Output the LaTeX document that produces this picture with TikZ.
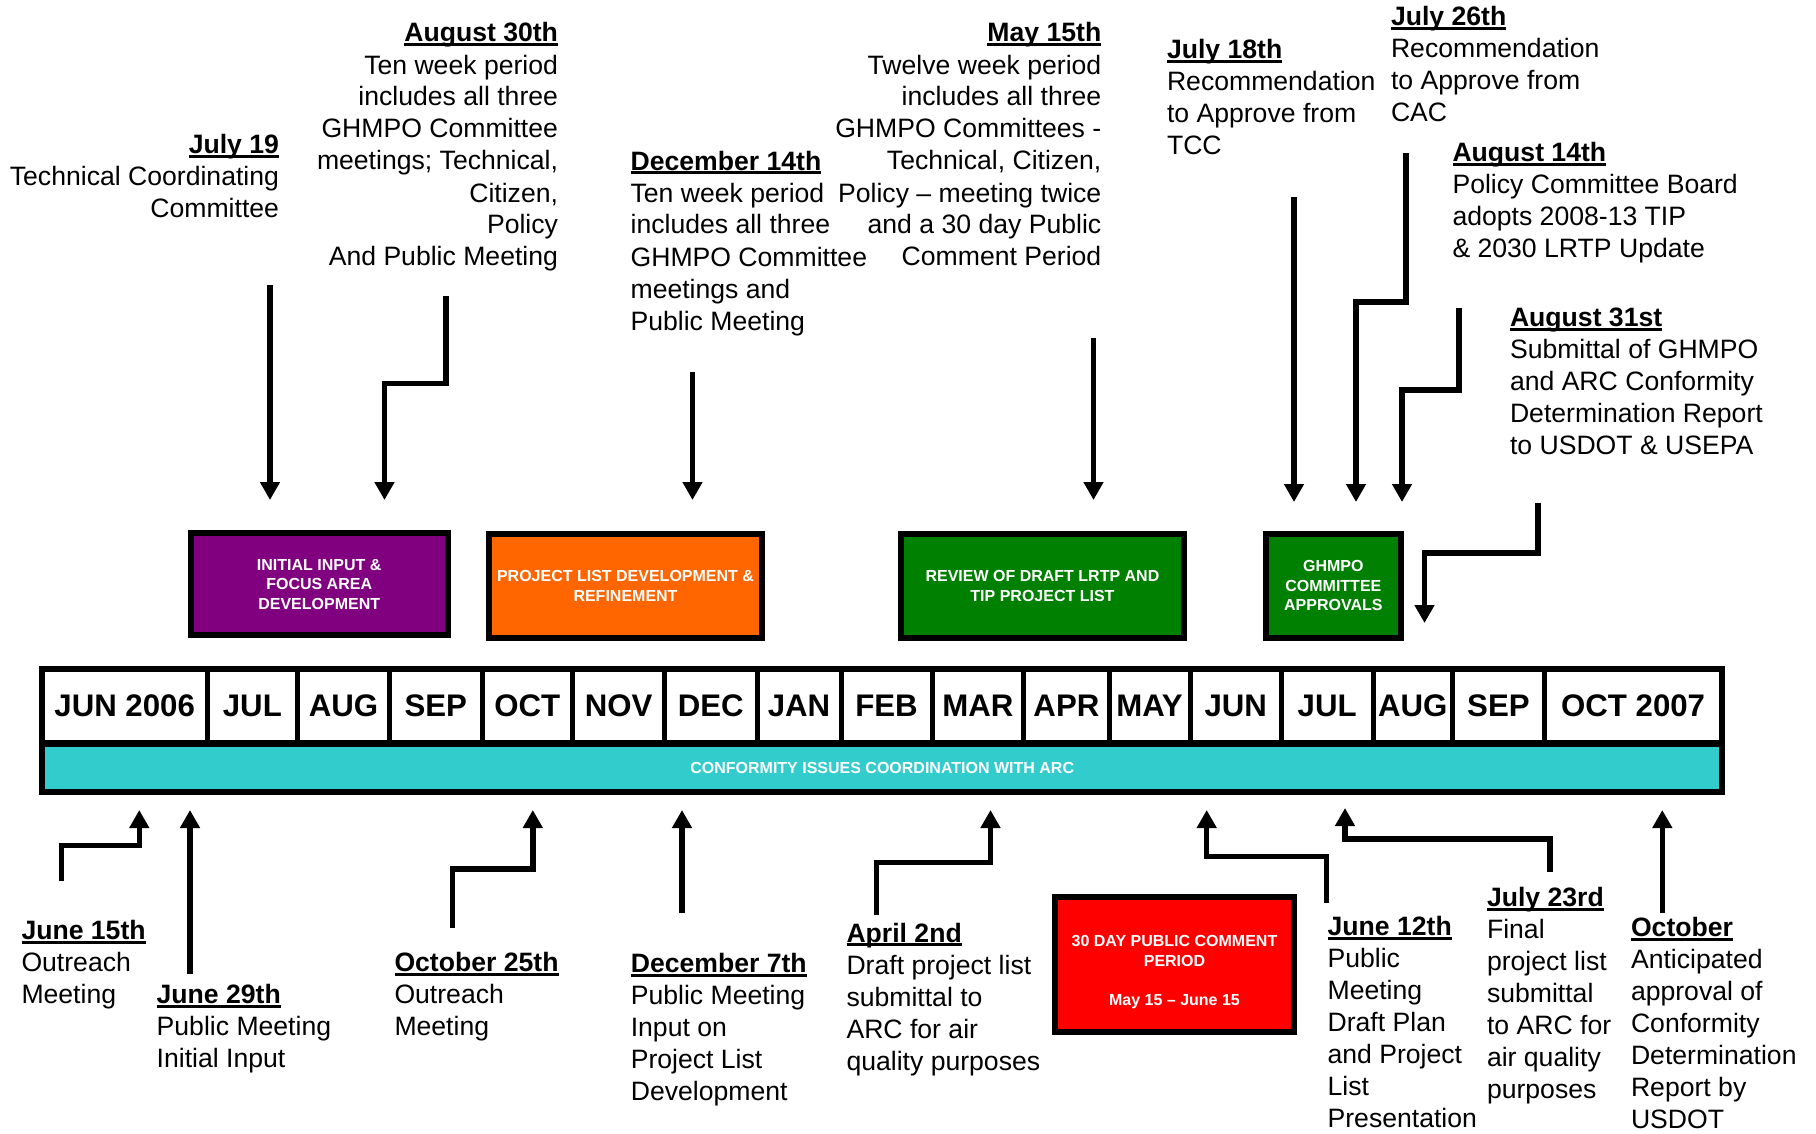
\documentclass[tikz,border=0pt]{standalone}
\usepackage{fontspec}
\setmainfont{Liberation Sans}
\usetikzlibrary{arrows.meta}
\definecolor{tpurple}{HTML}{800080}
\definecolor{torange}{HTML}{FF6600}
\definecolor{tgreen}{HTML}{008000}
\definecolor{tred}{HTML}{FF0000}
\definecolor{tteal}{HTML}{33CCCC}
\newsavebox\hdrbx
\newcommand\hdr[1]{\strut\sbox\hdrbx{\bfseries #1}\usebox\hdrbx\llap{\rule[-2.2pt]{\wd\hdrbx}{1.5pt}}}
\begin{document}
\begin{tikzpicture}[x=0.5pt,y=-0.5pt,
  arr/.style={line width=2.7pt,-{Triangle[length=9pt,width=9.5pt]}},
  rtxt/.style={anchor=north east,align=right,inner sep=0pt,outer sep=0pt,font=\fontsize{13.3}{16}\selectfont},
  ltxt/.style={anchor=north west,align=left,inner sep=0pt,outer sep=0pt,font=\fontsize{13.3}{16}\selectfont},
  phase/.style={draw=black,line width=3pt,inner sep=0pt,outer sep=0pt,text=white,align=center,font=\fontsize{8}{9.7}\selectfont\bfseries},
  ptext/.style={inner sep=0pt,outer sep=0pt,text=white,align=center,font=\fontsize{8}{9.7}\selectfont\bfseries},
  month/.style={draw=black,line width=2.5pt,fill=white,inner sep=0pt,outer sep=0pt,minimum height=37.3pt,font=\fontsize{15.6}{18}\selectfont\bfseries},
]
\useasboundingbox (0,0) rectangle (1816,1134);

% ---- timeline bar ----
\node[draw=black,line width=3pt,fill=tteal,inner sep=0pt,outer sep=0pt,minimum width=839.8pt,minimum height=24.35pt,text=white,font=\fontsize{8}{9.7}\selectfont\bfseries] (arc) at (882.2,767.65) {CONFORMITY ISSUES COORDINATION WITH ARC};
\foreach \cx/\w/\lab [count=\i] in {124.7/82.3/JUN 2006, 252.35/45.35/JUL, 343.6/45.9/AUG, 435.75/46.25/SEP, 527.35/45.35/OCT, 618.6/45.9/NOV, 710.75/46.25/DEC, 799/42/JAN, 886.5/45.5/FEB, 977.9/45.9/MAR, 1066.4/42.6/APR, 1149.5/40.5/MAY, 1235.7/45.7/JUN, 1327.2/45.8/JUL, 1412.8/39.8/AUG, 1498.45/45.85/SEP, 1633.15/88.85/OCT 2007}
  \node[month,minimum width=\w pt] (m\i) at (\cx,706) {\lab};
\draw[line width=3pt] (42.4,668.7) rectangle (1722,792);
\draw[line width=3.2pt] (42.4,743.3) -- (1722,743.3);

% ---- phase boxes ----
\node[phase,fill=tpurple,minimum width=128.4pt,minimum height=51.15pt] (p1) at (319.2,584.15) {INITIAL INPUT \&\\FOCUS AREA\\DEVELOPMENT};
\node[phase,fill=torange,minimum width=136.5pt,minimum height=52.15pt] (p2) at (625.5,585.85) {PROJECT LIST DEVELOPMENT \&\\REFINEMENT};
\node[phase,fill=tgreen,minimum width=141.95pt,minimum height=52.15pt] (p3) at (1042.45,585.85) {REVIEW OF DRAFT LRTP AND\\TIP PROJECT LIST};
\node[phase,fill=tgreen,minimum width=67.65pt,minimum height=52.15pt] (p4) at (1333.35,585.85) {GHMPO\\COMMITTEE\\APPROVALS};
\node[phase,fill=tred,minimum width=119.5pt,minimum height=67.35pt] (p5) at (1174.5,964.65) {};
\node[ptext] (p5t) at (1174.5,972) {30 DAY PUBLIC COMMENT\\PERIOD\\[9.7pt]May 15 – June 15};

% ---- top texts ----
\node[rtxt] (t1) at (279,131) {\hdr{July 19}\\Technical Coordinating\\Committee};
\node[rtxt] (t2) at (558,19.6) {\hdr{August 30th}\\Ten week period\\includes all three\\GHMPO Committee\\meetings; Technical,\\Citizen,\\Policy\\And Public Meeting};
\node[ltxt] (t3) at (630.6,147.6) {\hdr{December 14th}\\Ten week period\\includes all three\\GHMPO Committee\\meetings and\\Public Meeting};
\node[rtxt] (t4) at (1101.3,19.6) {\hdr{May 15th}\\Twelve week period\\includes all three\\GHMPO Committees -\\Technical, Citizen,\\Policy – meeting twice\\and a 30 day Public\\Comment Period};
\node[ltxt] (t5) at (1167,36.1) {\hdr{July 18th}\\Recommendation\\to Approve from\\TCC};
\node[ltxt] (t6) at (1391,3.6) {\hdr{July 26th}\\Recommendation\\to Approve from\\CAC};
\node[ltxt] (t7) at (1452.5,139.3) {\hdr{August 14th}\\Policy Committee Board\\adopts 2008-13 TIP\\\& 2030 LRTP Update};
\node[ltxt] (t8) at (1510,304.3) {\hdr{August 31st}\\Submittal of GHMPO\\and ARC Conformity\\Determination Report\\to USDOT \& USEPA};

% ---- bottom texts ----
\node[ltxt] (b1) at (21.5,916.9) {\hdr{June 15th}\\Outreach\\Meeting};
\node[ltxt] (b2) at (156.7,980.9) {\hdr{June 29th}\\Public Meeting\\Initial Input};
\node[ltxt] (b3) at (394.5,949.3) {\hdr{October 25th}\\Outreach\\Meeting};
\node[ltxt] (b4) at (630.8,950.3) {\hdr{December 7th}\\Public Meeting\\Input on\\Project List\\Development};
\node[ltxt] (b5) at (846.5,919.6) {\hdr{April 2nd}\\Draft project list\\submittal to\\ARC for air\\quality purposes};
\node[ltxt] (b6) at (1327.6,913) {\hdr{June 12th}\\Public\\Meeting\\Draft Plan\\and Project\\List\\Presentation};
\node[ltxt] (b7) at (1487,884.3) {\hdr{July 23rd}\\Final\\project list\\submittal\\to ARC for\\air quality\\purposes};
\node[ltxt] (b8) at (1631,914.5) {\hdr{October}\\Anticipated\\approval of\\Conformity\\Determination\\Report by\\USDOT};

% ---- arrow end points ----
\coordinate (a1s) at (270,285);    \coordinate (a1e) at (270,500);
\coordinate (a2s) at (445.8,296.5);\coordinate (a2e) at (384.5,500);
\coordinate (a3s) at (692.5,371.7);\coordinate (a3e) at (692.5,500);
\coordinate (a4s) at (1093.5,338); \coordinate (a4e) at (1093.5,500);
\coordinate (a5s) at (1294,197);   \coordinate (a5e) at (1294,502);
\coordinate (a6s) at (1406,153);   \coordinate (a6e) at (1356,502);
\coordinate (a7s) at (1459,308);   \coordinate (a7e) at (1402,502);
\coordinate (a8s) at (1538,503);   \coordinate (a8e) at (1424.5,623);
\coordinate (c1s) at (61.5,881);   \coordinate (c1e) at (139.3,810);
\coordinate (c2s) at (190,974);    \coordinate (c2e) at (190,810);
\coordinate (c3s) at (452.7,928);  \coordinate (c3e) at (532.8,810);
\coordinate (c4s) at (682,913);    \coordinate (c4e) at (682,810);
\coordinate (c5s) at (876.4,915);  \coordinate (c5e) at (990.5,810);
\coordinate (c6s) at (1326.4,903); \coordinate (c6e) at (1206.7,810);
\coordinate (c7s) at (1550,871.7); \coordinate (c7e) at (1345,808);
\coordinate (c8s) at (1662.3,913); \coordinate (c8e) at (1662.3,810);

% ---- arrows ----
\draw[arr] (a1s) -- (a1e);
\draw[arr] (a2s) -- ++(0,86.8) -| (a2e);
\draw[arr] (a3s) -- (a3e);
\draw[arr] (a4s) -- (a4e);
\draw[arr] (a5s) -- (a5e);
\draw[arr] (a6s) -- ++(0,149) -| (a6e);
\draw[arr] (a7s) -- ++(0,82) -| (a7e);
\draw[arr] (a8s) -- ++(0,50) -| (a8e);
\draw[arr] (c1s) -- ++(0,-35.3) -| (c1e);
\draw[arr] (c2s) -- (c2e);
\draw[arr] (c3s) -- ++(0,-59) -| (c3e);
\draw[arr] (c4s) -- (c4e);
\draw[arr] (c5s) -- ++(0,-52.7) -| (c5e);
\draw[arr] (c6s) -- ++(0,-46.3) -| (c6e);
\draw[arr] (c7s) -- ++(0,-32.7) -| (c7e);
\draw[arr] (c8s) -- (c8e);
\end{tikzpicture}
\end{document}
